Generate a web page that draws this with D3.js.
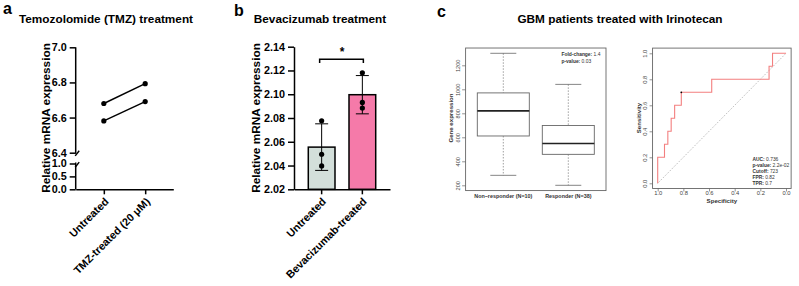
<!DOCTYPE html>
<html>
<head>
<meta charset="utf-8">
<script src="https://cdn.jsdelivr.net/npm/d3@7"></script>
<style>
  body { margin: 0; background: #fff; }
  svg { display: block; }
  text { font-family: 'Liberation Sans', Arial, sans-serif; }
</style>
</head>
<body>
<script>
// ---- panel a: TMZ paired lines ----
const tmzGroups = ['Untreated', 'TMZ-treated (20 μM)'];
const tmzPairs = [[6.68, 6.793], [6.581, 6.691]];
const tmzTopTicks = [6.4, 6.6, 6.8, 7.0];
const tmzBottomTicks = [0.0, 0.5, 1.0];

// ---- panel b: Bevacizumab bars ----
const bevGroups = ['Untreated', 'Bevacizumab-treated'];
const bevMeans = [2.0555, 2.0996];
const bevSd = [0.0196, 0.0161];
const bevPoints = [[2.0776, 2.0495, 2.0397], [2.118, 2.0931, 2.0884]];
const bevTicks = [2.02, 2.04, 2.06, 2.08, 2.10, 2.12, 2.14];
const bevColors = ['#d3dfda', '#f57aa9'];

// ---- panel c: boxplot (min, q1, median, q3, max) ----
const boxGroups = ['Non\u2212responder (N=10)', 'Responder (N=38)'];
const boxStats = [[283, 611, 820, 970, 1300], [200, 458, 548, 698, 1041]];
const boxTicks = [200, 400, 600, 800, 1000, 1200];

// ---- panel c: ROC curve ----
const rocSpec = [1, 1, 0.947, 0.921, 0.895, 0.868, 0.816, 0.579, 0.132, 0.105, 0];
const rocSens = [0, 0.2, 0.3, 0.4, 0.5, 0.6, 0.7, 0.8, 0.9, 1.0, 1.0];
const rocCut = [0.816, 0.7];
const rocTicks = [0, 0.2, 0.4, 0.6, 0.8, 1.0];
const rocStats = [['AUC:', '0.736'], ['p-value:', '2.2e-02'], ['Cutoff:', '723'], ['FPR:', '0.82'], ['TPR:', '0.7']];

const svg = d3.select('body').append('svg').attr('width', 799).attr('height', 286);
const FONT = "'Liberation Sans', Arial, sans-serif";

function styleAxis(g, size, weight) {
  g.selectAll('path, line').attr('stroke', '#000').attr('stroke-width', 1.5);
  g.selectAll('text').attr('font-size', size).attr('font-weight', weight || 'bold')
    .attr('fill', '#000').attr('font-family', FONT);
}

// panel letters + titles
[['a', 3, 14], ['b', 234, 16], ['c', 437, 17]].forEach(([t, x, y]) => {
  svg.append('text').attr('x', x).attr('y', y).text(t)
    .attr('font-size', 16).attr('font-weight', 'bold');
});
[['Temozolomide (TMZ) treatment', 106, 23], ['Bevacizumab treatment', 320, 23],
 ['GBM patients treated with Irinotecan', 620, 23]].forEach(([t, x, y]) => {
  svg.append('text').attr('x', x).attr('y', y).text(t).attr('text-anchor', 'middle')
    .attr('font-size', 11.8).attr('font-weight', 'bold');
});

// ===== panel a =====
const axA = 75.7, baseA = 189.3;
const xA = d3.scalePoint().domain(tmzGroups).range([axA, 173.3]).padding(0.68);
const yTop = d3.scaleLinear().domain([6.4, 7.0]).range([152.7, 47.3]);
const yBot = d3.scaleLinear().domain([0, 1]).range([baseA, 163.5]);

const gTop = svg.append('g').attr('transform', `translate(${axA},0)`)
  .call(d3.axisLeft(yTop).tickValues(tmzTopTicks).tickFormat(d3.format('.1f')).tickSize(6).tickSizeOuter(0));
gTop.select('.domain').attr('d', `M0,${yTop(7.0)}V${yTop(6.4) + 1}`);
styleAxis(gTop, 10.8);
const gBot = svg.append('g').attr('transform', `translate(${axA},0)`)
  .call(d3.axisLeft(yBot).tickValues(tmzBottomTicks).tickFormat(d3.format('.1f')).tickSize(6).tickSizeOuter(0));
gBot.select('.domain').attr('d', `M0,${yBot(1) - 1}V${yBot(0)}`);
styleAxis(gBot, 10.8);
// break marks
[yTop(6.4) + 0.6, yBot(1) + 1.2].forEach(y => {
  svg.append('line').attr('x1', axA - 0.5).attr('y1', y + 2.6).attr('x2', axA + 3.5).attr('y2', y - 2.6)
    .attr('stroke', '#000').attr('stroke-width', 1.4);
});

const gxA = svg.append('g').attr('transform', `translate(0,${baseA})`)
  .call(d3.axisBottom(xA).tickSize(5).tickSizeOuter(0));
styleAxis(gxA, 10.8);
gxA.selectAll('.tick text').attr('text-anchor', 'end').attr('dy', 0).attr('y', 0)
  .attr('transform', 'translate(5,13) rotate(-45)');

svg.append('text').attr('transform', 'translate(49.5,118) rotate(-90)').attr('text-anchor', 'middle')
  .text('Relative mRNA expression').attr('font-size', 11.8).attr('font-weight', 'bold');

tmzPairs.forEach(p => {
  const pts = p.map((v, i) => [xA(tmzGroups[i]), yTop(v)]);
  svg.append('path').attr('d', d3.line()(pts)).attr('stroke', '#000').attr('stroke-width', 1.5).attr('fill', 'none');
  pts.forEach(([x, y]) => svg.append('circle').attr('cx', x).attr('cy', y).attr('r', 2.6).attr('fill', '#000'));
});

// ===== panel b =====
const axB = 294, baseB = 189.3;
const xB = d3.scaleBand().domain(bevGroups).range([axB, 390]).paddingInner(0.344).paddingOuter(0.351);
const yB = d3.scaleLinear().domain([2.02, 2.14]).range([baseB, 46.7]);

svg.append('g').selectAll('rect').data(bevGroups).join('rect')
  .attr('x', d => xB(d)).attr('width', xB.bandwidth())
  .attr('y', (d, i) => yB(bevMeans[i])).attr('height', (d, i) => baseB - yB(bevMeans[i]))
  .attr('fill', (d, i) => bevColors[i]).attr('stroke', '#000').attr('stroke-width', 1.5);

bevGroups.forEach((g, i) => {
  const cx = xB(g) + xB.bandwidth() / 2;
  const lo = yB(bevMeans[i] - bevSd[i]), hi = yB(bevMeans[i] + bevSd[i]);
  svg.append('line').attr('x1', cx).attr('x2', cx).attr('y1', lo).attr('y2', hi).attr('stroke', '#000').attr('stroke-width', 1);
  [lo, hi].forEach(y => svg.append('line').attr('x1', cx - 6.5).attr('x2', cx + 6.5).attr('y1', y).attr('y2', y)
    .attr('stroke', '#000').attr('stroke-width', 1));
  bevPoints[i].forEach(v => svg.append('circle').attr('cx', cx).attr('cy', yB(v)).attr('r', 2.6).attr('fill', '#000'));
});

const gyB = svg.append('g').attr('transform', `translate(${axB},0)`)
  .call(d3.axisLeft(yB).tickValues(bevTicks).tickFormat(d3.format('.2f')).tickSize(6).tickSizeOuter(0));
styleAxis(gyB, 10.8);
const gxB = svg.append('g').attr('transform', `translate(0,${baseB})`)
  .call(d3.axisBottom(xB).tickSize(5).tickSizeOuter(0));
styleAxis(gxB, 10.8);
gxB.selectAll('.tick text').attr('text-anchor', 'end').attr('dy', 0).attr('y', 0)
  .attr('transform', 'translate(5,13) rotate(-45)');

svg.append('text').attr('transform', 'translate(260,118) rotate(-90)').attr('text-anchor', 'middle')
  .text('Relative mRNA expression').attr('font-size', 11.8).attr('font-weight', 'bold');

// significance bracket
const c0 = xB(bevGroups[0]) + xB.bandwidth() / 2, c1 = xB(bevGroups[1]) + xB.bandwidth() / 2;
svg.append('path').attr('d', `M${c0 - 2},63V59.3H${c1 + 1}V63`).attr('fill', 'none')
  .attr('stroke', '#000').attr('stroke-width', 1.5);
svg.append('text').attr('x', (c0 + c1) / 2).attr('y', 56).attr('text-anchor', 'middle')
  .text('*').attr('font-size', 12).attr('font-weight', 'bold');

// ===== panel c: boxplot =====
const xC = d3.scaleLinear().domain([1, 2]).range([503.3, 568.3]);
const yC = d3.scaleLinear().domain([200, 1300]).range([185.3, 53.3]);
const frameC = { x0: xC(0.42), x1: xC(2.58), y0: yC(1344), y1: yC(156) };
svg.append('rect').attr('x', frameC.x0).attr('y', frameC.y0)
  .attr('width', frameC.x1 - frameC.x0).attr('height', frameC.y1 - frameC.y0)
  .attr('fill', 'none').attr('stroke', '#666').attr('stroke-width', 0.9);

boxStats.forEach((s, i) => {
  const cx = xC(i + 1), hw = xC(0.4) - xC(0), cap = hw / 2;
  const g = svg.append('g');
  g.append('line').attr('x1', cx).attr('x2', cx).attr('y1', yC(s[4])).attr('y2', yC(s[3]))
    .attr('stroke', '#777').attr('stroke-width', 0.7).attr('stroke-dasharray', '1.5,1.5');
  g.append('line').attr('x1', cx).attr('x2', cx).attr('y1', yC(s[1])).attr('y2', yC(s[0]))
    .attr('stroke', '#777').attr('stroke-width', 0.7).attr('stroke-dasharray', '1.5,1.5');
  [s[0], s[4]].forEach(v => g.append('line').attr('x1', cx - cap).attr('x2', cx + cap)
    .attr('y1', yC(v)).attr('y2', yC(v)).attr('stroke', '#666').attr('stroke-width', 0.8));
  g.append('rect').attr('x', cx - hw).attr('width', hw * 2).attr('y', yC(s[3])).attr('height', yC(s[1]) - yC(s[3]))
    .attr('fill', '#fff').attr('stroke', '#666').attr('stroke-width', 0.9);
  g.append('line').attr('x1', cx - hw).attr('x2', cx + hw).attr('y1', yC(s[2])).attr('y2', yC(s[2]))
    .attr('stroke', '#222').attr('stroke-width', 1.6);
});

const gyC = svg.append('g').attr('transform', `translate(${frameC.x0},0)`)
  .call(d3.axisLeft(yC).tickValues(boxTicks).tickFormat(d3.format('d')).tickSize(3.5).tickSizeOuter(0));
gyC.select('.domain').remove();
gyC.selectAll('line').attr('stroke', '#666').attr('stroke-width', 0.7);
gyC.selectAll('text').attr('font-size', 5.6).attr('fill', '#444').attr('x', 0).attr('dy', 0)
  .attr('text-anchor', 'middle').attr('transform', 'translate(-5.5,0) rotate(-90)');
svg.append('g').selectAll('text').data(boxGroups).join('text')
  .attr('x', (d, i) => xC(i + 1)).attr('y', 197.5).attr('text-anchor', 'middle')
  .text(d => d).attr('font-size', 5.4).attr('font-weight', 'bold').attr('fill', '#333');
svg.append('text').attr('transform', 'translate(453,118) rotate(-90)').attr('text-anchor', 'middle')
  .text('Gene expression').attr('font-size', 6.1).attr('font-weight', 'bold').attr('fill', '#333');
[['Fold-change:', '1.4', 56], ['p-value:', '0.03', 62.5]].forEach(([k, v, y]) => {
  const t = svg.append('text').attr('x', 561.5).attr('y', y).attr('font-size', 4.9).attr('fill', '#333');
  t.append('tspan').attr('font-weight', 'bold').text(k);
  t.append('tspan').text(' ' + v);
});

// ===== panel c: ROC =====
const xR = d3.scaleLinear().domain([1, 0]).range([657.7, 786]);
const yR = d3.scaleLinear().domain([0, 1]).range([183.3, 53.3]);
const frameR = { x0: xR(1.04), x1: xR(-0.04), y0: yR(1.04), y1: yR(-0.04) };
svg.append('rect').attr('x', frameR.x0).attr('y', frameR.y0)
  .attr('width', frameR.x1 - frameR.x0).attr('height', frameR.y1 - frameR.y0)
  .attr('fill', 'none').attr('stroke', '#666').attr('stroke-width', 0.9);

svg.append('line').attr('x1', xR(1)).attr('y1', yR(0)).attr('x2', xR(0)).attr('y2', yR(1))
  .attr('stroke', '#888').attr('stroke-width', 0.7).attr('stroke-dasharray', '1,1.5');
svg.append('path')
  .attr('d', d3.line().x(d => xR(d[0])).y(d => yR(d[1])).curve(d3.curveStepAfter)(rocSpec.map((s, i) => [s, rocSens[i]])))
  .attr('fill', 'none').attr('stroke', '#f37f7f').attr('stroke-width', 1.1);
svg.append('circle').attr('cx', xR(rocCut[0])).attr('cy', yR(rocCut[1])).attr('r', 0.9).attr('fill', '#000');

const gxR = svg.append('g').attr('transform', `translate(0,${frameR.y1})`)
  .call(d3.axisBottom(xR).tickValues(rocTicks).tickFormat(d3.format('.1f')).tickSize(3).tickSizeOuter(0));
gxR.select('.domain').remove();
gxR.selectAll('line').attr('stroke', '#666').attr('stroke-width', 0.7);
gxR.selectAll('text').attr('font-size', 5.8).attr('fill', '#444').attr('y', 4.3).attr('dy', '0.35em');
const gyR = svg.append('g').attr('transform', `translate(${frameR.x0},0)`)
  .call(d3.axisLeft(yR).tickValues(rocTicks).tickFormat(d3.format('.1f')).tickSize(3).tickSizeOuter(0));
gyR.select('.domain').remove();
gyR.selectAll('line').attr('stroke', '#666').attr('stroke-width', 0.7);
gyR.selectAll('text').attr('font-size', 5.8).attr('fill', '#444').attr('x', 0).attr('dy', 0)
  .attr('text-anchor', 'middle').attr('transform', 'translate(-5.5,0) rotate(-90)');
svg.append('text').attr('x', xR(0.5)).attr('y', 202.8).attr('text-anchor', 'middle')
  .text('Specificity').attr('font-size', 6.1).attr('font-weight', 'bold').attr('fill', '#333');
svg.append('text').attr('transform', 'translate(640.5,118) rotate(-90)').attr('text-anchor', 'middle')
  .text('Sensitivity').attr('font-size', 6.1).attr('font-weight', 'bold').attr('fill', '#333');
rocStats.forEach(([k, v], i) => {
  const t = svg.append('text').attr('x', 752.5).attr('y', 161 + i * 6.05).attr('font-size', 4.9).attr('fill', '#333');
  t.append('tspan').attr('font-weight', 'bold').text(k);
  t.append('tspan').text(' ' + v);
});
</script>
</body>
</html>
